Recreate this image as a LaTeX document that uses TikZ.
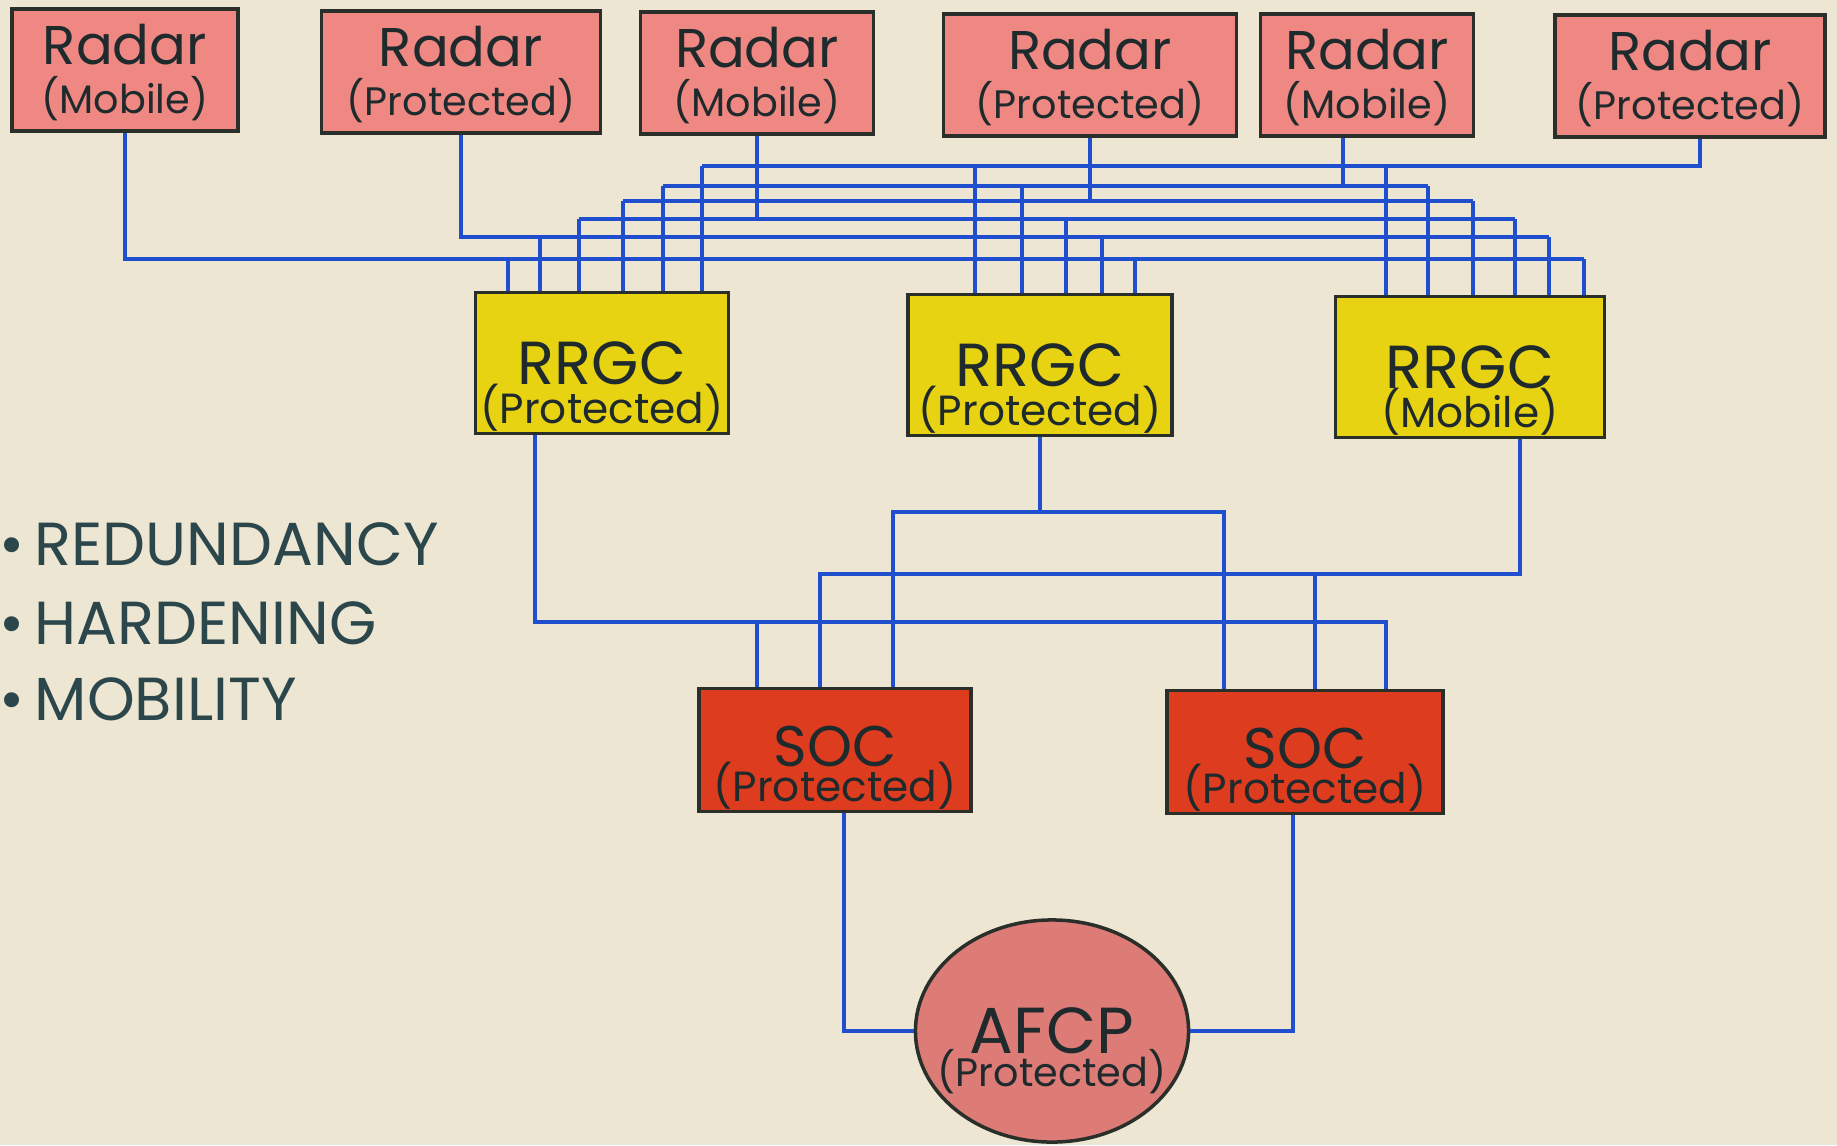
\documentclass[tikz,border=0pt,11pt]{standalone}
\usepackage{fontspec}
\setmainfont{Poppins}
\usetikzlibrary{shapes.geometric}
\definecolor{paper}{HTML}{EDE6D2}
\definecolor{radarpink}{HTML}{EF8882}
\definecolor{rrgcyellow}{HTML}{E8D312}
\definecolor{socred}{HTML}{DE3C1F}
\definecolor{afcppink}{HTML}{DD7B77}
\definecolor{wireblue}{HTML}{1F4FCF}
\definecolor{edge}{HTML}{2B2F2A}
\definecolor{ink}{HTML}{1F2A2C}
\definecolor{slate}{HTML}{2C474C}
\newcommand{\subsize}{\fontsize{11.3}{13}\selectfont}
\tikzset{
  box/.style={rectangle, draw=edge, line width=1pt, align=center, inner sep=0pt, text=ink,
    text depth=0pt},
  radar/.style={box, fill=radarpink, minimum height=1.22cm,
    font=\fontsize{15.5}{14.7}\selectfont, text height=25pt},
  rrgc/.style={box, fill=rrgcyellow, minimum height=1.41cm,
    font=\fontsize{17.28}{12}\selectfont, text height=34.4pt},
  soc/.style={box, fill=socred, minimum height=1.23cm,
    font=\fontsize{16.3}{10.4}\selectfont, text height=29pt},
  hq/.style={ellipse, draw=edge, line width=1pt, fill=afcppink, align=center,
    inner xsep=-5.5pt, inner ysep=0pt, text=ink, minimum width=2.73cm, minimum height=2.22cm,
    font=\fontsize{18.5}{11.4}\selectfont, text height=31.6pt, text depth=0pt},
  wire/.style={draw=wireblue, line width=0.9pt},
  point/.style={font=\LARGE, text=slate, anchor=west, inner sep=0pt},
}
\begin{document}
\begin{tikzpicture}[x=0.01cm, y=-0.01cm]
\fill[paper] (0,0) rectangle (1837,1145);
\useasboundingbox (0,0) rectangle (1837,1145);

\node[radar, minimum width=2.26cm] (r1) at (125,70) {Radar \\[-0.7pt] \subsize (Mobile)};
\node[radar, minimum width=2.79cm] (r2) at (461,72) {Radar \\[-0.7pt] \subsize (Protected)};
\node[radar, minimum width=2.33cm] (r3) at (757,73) {Radar \\[-0.7pt] \subsize (Mobile)};
\node[radar, minimum width=2.93cm] (r4) at (1090,75) {Radar \\[-0.7pt] \subsize (Protected)};
\node[radar, minimum width=2.13cm] (r5) at (1367,75) {Radar \\[-0.7pt] \subsize (Mobile)};
\node[radar, minimum width=2.70cm] (r6) at (1690,76) {Radar \\[-0.7pt] \subsize (Protected)};

\node[rrgc, minimum width=2.53cm] (g1) at (602,363) {RRGC \\[-1pt] \large (Protected)};
\node[rrgc, minimum width=2.64cm] (g2) at (1040,365) {RRGC \\[-1pt] \large (Protected)};
\node[rrgc, minimum width=2.69cm] (g3) at (1470,367) {RRGC \\[-1pt] \large (Mobile)};

\node[soc, minimum width=2.72cm] (s1) at (835,750) {SOC \\[-2.6pt] \large (Protected)};
\node[soc, minimum width=2.76cm] (s2) at (1305,752) {SOC \\[-2.6pt] \large (Protected)};

\node[hq] (afcp) at (1052,1031) {AFCP \\[-2pt] \subsize (Protected)};

\node[point] (redund) at (-1,544) {\textbullet\,REDUNDANCY};
\node[point] (harden) at (-1,623) {\textbullet\,HARDENING};
\node[point] (mobil) at (-1,699) {\textbullet\,MOBILITY};

\coordinate (busA) at (0,259);
\coordinate (busB) at (0,237);
\coordinate (busC) at (0,219);
\coordinate (busD) at (0,201);
\coordinate (busE) at (0,186);
\coordinate (busF) at (0,166);
\coordinate (busG) at (0,622);
\coordinate (busH) at (0,512);
\coordinate (busI) at (0,574);

\draw[wire] (r1.south) |- (1584,0 |- busA);
\draw[wire] (r2.south) |- (1549,0 |- busB);
\draw[wire] (r3.south) -- (r3.south |- busC);
\draw[wire] (579,0 |- busC) -- (1515,0 |- busC);
\draw[wire] (r4.south) -- (r4.south |- busD);
\draw[wire] (623,0 |- busD) -- (1473,0 |- busD);
\draw[wire] (1343,0 |- r5.south) -- (1343,0 |- busE);
\draw[wire] (663,0 |- busE) -- (1428,0 |- busE);
\draw[wire] (1700,0 |- r6.south) |- (702,0 |- busF);

\foreach \x/\b in {508/busA,540/busB,579/busC,623/busD,663/busE,702/busF}
  \draw[wire] (\x,0 |- \b) -- (\x,0 |- g1.north);
\foreach \x/\b in {975/busF,1022/busE,1066/busC,1102/busB,1135/busA}
  \draw[wire] (\x,0 |- \b) -- (\x,0 |- g2.north);
\foreach \x/\b in {1386/busF,1428/busE,1473/busD,1515/busC,1549/busB,1584/busA}
  \draw[wire] (\x,0 |- \b) -- (\x,0 |- g3.north);

\draw[wire] (535,0 |- g1.south) |- (1386,0 |- busG) -- (1386,0 |- s2.north);
\draw[wire] (757,0 |- busG) -- (757,0 |- s1.north);
\draw[wire] (g2.south) -- (g2.south |- busH);
\draw[wire] (893,0 |- s1.north) |- (1224,0 |- busH) -- (1224,0 |- s2.north);
\draw[wire] (1520,0 |- g3.south) |- (820,0 |- busI) -- (820,0 |- s1.north);
\draw[wire] (1315,0 |- busI) -- (1315,0 |- s2.north);
\draw[wire] (844,0 |- s1.south) |- (afcp.west);
\draw[wire] (1293,0 |- s2.south) |- (afcp.east);
\end{tikzpicture}
\end{document}
